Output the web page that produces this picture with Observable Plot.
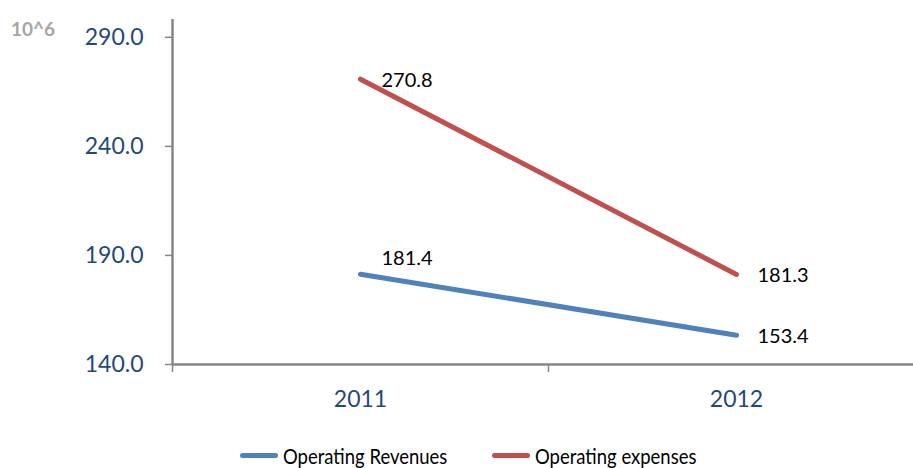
<!DOCTYPE html>
<html>
<head>
<meta charset="utf-8">
<script src="https://cdn.jsdelivr.net/npm/d3@7"></script>
<script src="https://cdn.jsdelivr.net/npm/@observablehq/plot@0.6"></script>
<style>
  html, body { margin: 0; padding: 0; background: #fff; overflow: hidden; }
  #wrap { position: relative; width: 913px; height: 468px; font-family: Lato, "Open Sans", sans-serif; }
  #unit { position: absolute; left: 11px; top: 17px; font-size: 19px; font-weight: bold; color: #a6a6a6; }
  #legend { position: absolute; left: 0; top: 442px; width: 913px; height: 30px; font-family: Lato, sans-serif; font-size: 22px; color: #000; }
  .item { position: absolute; top: 0; display: flex; align-items: center; white-space: nowrap; }
  .sw { width: 38px; height: 5px; border-radius: 3px; margin-right: 5px; }
  .lt { display: inline-block; transform: scaleX(0.84); transform-origin: left center; }
</style>
</head>
<body>
<div id="wrap">
  <div id="chart"></div>
  <div id="unit">10^6</div>
  <div id="legend"></div>
</div>
<script>
const years = ["2011", "2012"];
const seriesNames = ["Operating Revenues", "Operating expenses"];
const revenues = [181.4, 153.4];
const expenses = [270.8, 181.3];
const colors = ["#4F81BD", "#C0504D"];
const yTicks = [140, 190, 240, 290];

const data = [];
years.forEach((yr, i) => {
  data.push({series: seriesNames[0], i, year: yr, value: revenues[i]});
  data.push({series: seriesNames[1], i, year: yr, value: expenses[i]});
});

const axisColor = "#868686";
const labelColor = "#1F497D";

const chart = Plot.plot({
  width: 913,
  height: 420,
  marginLeft: 172,
  marginRight: 0,
  marginTop: 15,
  marginBottom: 56,
  style: {fontFamily: "Lato, 'Open Sans', sans-serif", background: "transparent"},
  x: {domain: [0, years.length], range: [172, 924]},
  y: {domain: [140, 300]},
  color: {domain: seriesNames, range: colors},
  marks: [
    Plot.axisY({ticks: yTicks, tickFormat: d => d.toFixed(1), tickSize: 7, tickPadding: 22, fontSize: 23, color: labelColor, stroke: axisColor, strokeOpacity: 1, strokeWidth: 1.5, label: null}),
    Plot.axisX({ticks: d3.range(0, years.length + 1), tickFormat: () => "", tickSize: 8, stroke: axisColor, strokeOpacity: 1, strokeWidth: 1.5, label: null}),
    Plot.axisX({ticks: years.map((_, i) => i + 0.5), tickFormat: d => years[Math.floor(d)], tickSize: 0, tickPadding: 26, fontSize: 23, color: labelColor, label: null}),
    Plot.ruleY([140], {stroke: axisColor, strokeWidth: 2.5}),
    Plot.ruleX([0], {y1: 140, y2: 300, stroke: axisColor, strokeWidth: 2.5, insetBottom: -4}),
    Plot.line(data, {x: d => d.i + 0.5, y: "value", stroke: "series", strokeWidth: 5, strokeLinecap: "round"}),
    Plot.text(data.filter(d => !(d.series === seriesNames[0] && d.i === 0)), {x: d => d.i + 0.5, y: "value", text: d => d.value.toFixed(1), dx: 21, dy: 1, textAnchor: "start", fontSize: 20, fill: "#000"}),
    Plot.text(data.filter(d => d.series === seriesNames[0] && d.i === 0), {x: d => d.i + 0.5, y: "value", text: d => d.value.toFixed(1), dx: 21, dy: -16, textAnchor: "start", fontSize: 20, fill: "#000"})
  ]
});
document.getElementById("chart").appendChild(chart);

const legend = document.getElementById("legend");
const legendLeft = [240, 492];
seriesNames.forEach((name, k) => {
  const it = document.createElement("div");
  it.className = "item";
  it.style.left = legendLeft[k] + "px";
  const sw = document.createElement("div");
  sw.className = "sw";
  sw.style.background = colors[k];
  const t = document.createElement("span");
  t.className = "lt";
  t.textContent = name;
  it.appendChild(sw);
  it.appendChild(t);
  legend.appendChild(it);
});
</script>
</body>
</html>
